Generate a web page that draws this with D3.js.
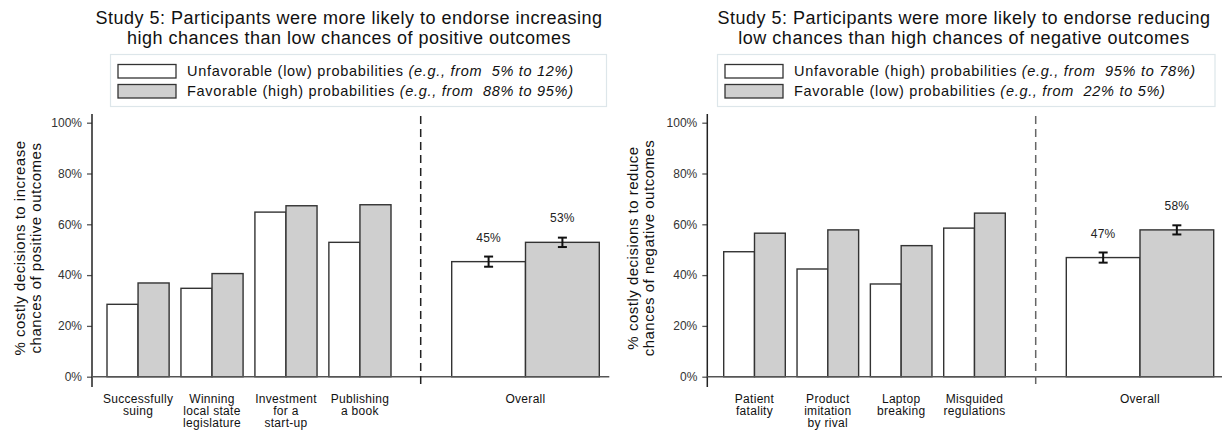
<!DOCTYPE html>
<html>
<head>
<meta charset="utf-8">
<script src="https://cdn.jsdelivr.net/npm/d3@7"></script>
<style>
  html, body { margin: 0; padding: 0; background: #fff; }
  svg { display: block; font-family: Arial, "Liberation Sans", sans-serif; }
  text { white-space: pre; }
</style>
</head>
<body>
<svg id="chart" width="1222" height="432"></svg>
<script>
// ---- Data (percent of participants) ----
const yTicks = [0, 20, 40, 60, 80, 100];

const leftTitle = ["Study 5: Participants were more likely to endorse increasing",
                   "high chances than low chances of positive outcomes"];
const leftLegend = [["Unfavorable (low) probabilities ", "(e.g., from  5% to 12%)"],
                    ["Favorable (high) probabilities ", "(e.g., from  88% to 95%)"]];
const leftYTitle = ["% costly decisions to increase", "chances of positive outcomes"];
const leftCategories = ["Successfully\nsuing", "Winning\nlocal state\nlegislature", "Investment\nfor a\nstart-up", "Publishing\na book"];
const leftUnfavorable = [28.5, 34.8, 64.8, 52.9];
const leftFavorable = [36.9, 40.6, 67.3, 67.7];
const leftOverall = [45.3, 52.9];
const leftOverallErr = [2.0, 1.85];

const rightTitle = ["Study 5: Participants were more likely to endorse reducing",
                    "low chances than high chances of negative outcomes"];
const rightLegend = [["Unfavorable (high) probabilities ", "(e.g., from  95% to 78%)"],
                     ["Favorable (low) probabilities ", "(e.g., from  22% to 5%)"]];
const rightYTitle = ["% costly decisions to reduce", "chances of negative outcomes"];
const rightCategories = ["Patient\nfatality", "Product\nimitation\nby rival", "Laptop\nbreaking", "Misguided\nregulations"];
const rightUnfavorable = [49.2, 42.4, 36.5, 58.5];
const rightFavorable = [56.5, 57.8, 51.6, 64.4];
const rightOverall = [46.9, 57.8];
const rightOverallErr = [2.0, 1.8];

const seriesKeys = ["Unfavorable", "Favorable"];
const overallLabel = "Overall";

// ---- Styles ----
const fills = { Unfavorable: "#ffffff", Favorable: "#cfcfcf" };
const barStroke = "#333";
const axisColor = "#555";
const textColor = "#111";

const svg = d3.select("#chart");

const y = d3.scaleLinear().domain([0, 100]).range([376.7, 122.7]);

function drawPanel(p) {
  const g = svg.append("g");

  // Title
  g.append("text")
    .attr("x", p.titleX).attr("y", 23.5)
    .attr("text-anchor", "middle")
    .attr("font-size", 18).attr("letter-spacing", 0.5).attr("fill", textColor)
    .selectAll("tspan").data(p.title).join("tspan")
    .attr("x", p.titleX).attr("dy", (d, i) => i === 0 ? 0 : 20)
    .text(d => d);

  // Legend
  g.append("rect")
    .attr("x", p.legendX0).attr("y", 54.5)
    .attr("width", p.legendX1 - p.legendX0).attr("height", 52)
    .attr("fill", "#fff").attr("stroke", "#dde6ea").attr("stroke-width", 1.2);
  const leg = g.selectAll(".leg").data(p.legend).join("g")
    .attr("transform", (d, i) => `translate(0,${i * 20})`);
  leg.append("rect")
    .attr("x", p.swatchX).attr("y", 64.5)
    .attr("width", 58).attr("height", 13.5)
    .attr("fill", (d, i) => fills[seriesKeys[i]])
    .attr("stroke", barStroke).attr("stroke-width", 1.3);
  const lt = leg.append("text")
    .attr("x", p.swatchX + 69).attr("y", 75.5)
    .attr("font-size", 14.5).attr("letter-spacing", 0.7).attr("fill", textColor);
  lt.append("tspan").text(d => d[0]);
  lt.append("tspan").attr("font-style", "italic").text(d => d[1]);

  // Y axis
  const yAxis = d3.axisLeft(y)
    .tickValues(yTicks)
    .tickFormat(d => d + "%")
    .tickSize(5).tickPadding(5);
  const ya = g.append("g")
    .attr("transform", `translate(${p.axisX},0)`)
    .call(yAxis);
  ya.select(".domain").remove();
  ya.selectAll(".tick line").attr("stroke", axisColor).attr("stroke-width", 1.3);
  ya.selectAll(".tick text")
    .attr("font-family", "Arial, 'Liberation Sans', sans-serif")
    .attr("font-size", 12).attr("fill", "#333");
  g.append("line")
    .attr("x1", p.axisX).attr("x2", p.axisX)
    .attr("y1", 114).attr("y2", 387)
    .attr("stroke", "#222").attr("stroke-width", 1.5);

  // Y axis title
  g.append("text")
    .attr("transform", `translate(${p.yTitleX},248) rotate(-90)`)
    .attr("text-anchor", "middle")
    .attr("font-size", 15).attr("letter-spacing", 0.5).attr("fill", textColor)
    .selectAll("tspan").data(p.yTitle).join("tspan")
    .attr("x", 0).attr("dy", (d, i) => i === 0 ? 0 : 16)
    .text(d => d);

  // Category bars
  const x0 = d3.scaleBand().domain(p.categories).range(p.catRange)
    .paddingInner(0.16).paddingOuter(0);
  const x1 = d3.scaleBand().domain(seriesKeys).range([0, x0.bandwidth()]);
  const rows = p.categories.map((c, i) => ({
    cat: c,
    values: [{ key: "Unfavorable", v: p.unfav[i] }, { key: "Favorable", v: p.fav[i] }]
  }));
  const grp = g.selectAll(".grp").data(rows).join("g")
    .attr("transform", d => `translate(${x0(d.cat)},0)`);
  grp.selectAll("rect").data(d => d.values).join("rect")
    .attr("x", d => x1(d.key)).attr("width", x1.bandwidth())
    .attr("y", d => y(d.v)).attr("height", d => y(0) - y(d.v))
    .attr("fill", d => fills[d.key])
    .attr("stroke", barStroke).attr("stroke-width", 1.4);

  // Category labels
  g.selectAll(".catlab").data(p.categories).join("text")
    .attr("text-anchor", "middle")
    .attr("font-size", 12).attr("letter-spacing", 0.3).attr("fill", textColor)
    .each(function (d) {
      const cx = x0(d) + x0.bandwidth() / 2;
      d3.select(this).selectAll("tspan").data(d.split("\n")).join("tspan")
        .attr("x", cx).attr("y", (t, i) => 402.5 + i * 12.4)
        .text(t => t);
    });

  // Overall bars
  const xo = d3.scaleBand().domain(seriesKeys).range(p.overallRange);
  const ov = seriesKeys.map((k, i) => ({ key: k, v: p.overall[i], e: p.overallErr[i] }));
  g.selectAll(".ovbar").data(ov).join("rect")
    .attr("x", d => xo(d.key)).attr("width", xo.bandwidth())
    .attr("y", d => y(d.v)).attr("height", d => y(0) - y(d.v))
    .attr("fill", d => fills[d.key])
    .attr("stroke", barStroke).attr("stroke-width", 1.4);

  // Error bars
  const eb = g.selectAll(".eb").data(ov).join("g")
    .attr("transform", d => `translate(${xo(d.key) + xo.bandwidth() / 2},0)`)
    .attr("stroke", "#111").attr("stroke-width", 2);
  eb.append("line").attr("x1", 0).attr("x2", 0)
    .attr("y1", d => y(d.v + d.e)).attr("y2", d => y(d.v - d.e));
  eb.append("line").attr("x1", -4.5).attr("x2", 4.5)
    .attr("y1", d => y(d.v + d.e)).attr("y2", d => y(d.v + d.e));
  eb.append("line").attr("x1", -4.5).attr("x2", 4.5)
    .attr("y1", d => y(d.v - d.e)).attr("y2", d => y(d.v - d.e));

  // Value labels
  g.selectAll(".vlab").data(ov).join("text")
    .attr("x", d => xo(d.key) + xo.bandwidth() / 2)
    .attr("y", d => y(d.v) - 20)
    .attr("text-anchor", "middle")
    .attr("font-size", 12).attr("letter-spacing", 0.2).attr("fill", "#222")
    .text(d => Math.round(d.v) + "%");

  g.append("text")
    .attr("x", (p.overallRange[0] + p.overallRange[1]) / 2).attr("y", 402.5)
    .attr("text-anchor", "middle")
    .attr("font-size", 12).attr("letter-spacing", 0.3).attr("fill", textColor)
    .text(overallLabel);

  // Baseline
  g.append("line")
    .attr("x1", p.axisX).attr("x2", p.baseEnd)
    .attr("y1", y(0)).attr("y2", y(0))
    .attr("stroke", axisColor).attr("stroke-width", 1.4);

  // Separator
  g.append("line")
    .attr("x1", p.sepX).attr("x2", p.sepX)
    .attr("y1", 116).attr("y2", 387)
    .attr("stroke", p.sepColor).attr("stroke-width", 1.5)
    .attr("stroke-dasharray", "8,5");
}

drawPanel({
  title: leftTitle, titleX: 349,
  legend: leftLegend, legendX0: 110.5, legendX1: 606.5, swatchX: 118,
  yTitle: leftYTitle, yTitleX: 25,
  axisX: 92,
  categories: leftCategories, unfav: leftUnfavorable, fav: leftFavorable,
  catRange: [107, 391],
  overall: leftOverall, overallErr: leftOverallErr, overallRange: [451.7, 599.3],
  baseEnd: 609.3, sepX: 420.7, sepColor: "#222"
});

drawPanel({
  title: rightTitle, titleX: 964,
  legend: rightLegend, legendX0: 717.5, legendX1: 1215, swatchX: 725,
  yTitle: rightYTitle, yTitleX: 637.5,
  axisX: 707.3,
  categories: rightCategories, unfav: rightUnfavorable, fav: rightFavorable,
  catRange: [723.7, 1005.3],
  overall: rightOverall, overallErr: rightOverallErr, overallRange: [1066.3, 1213.7],
  baseEnd: 1222, sepX: 1035.7, sepColor: "#666"
});
</script>
</body>
</html>
